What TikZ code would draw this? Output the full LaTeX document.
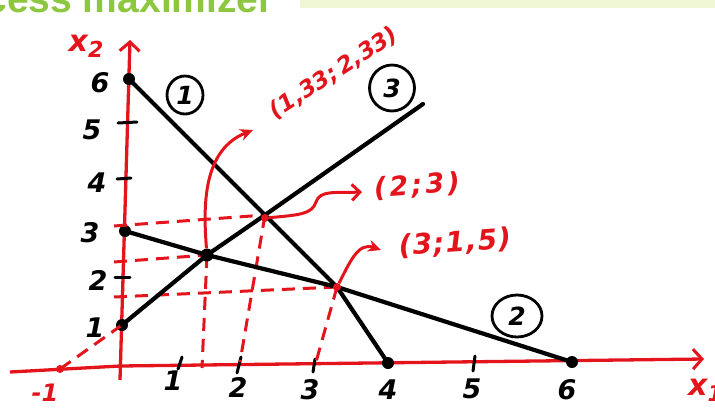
\documentclass[tikz,border=0pt]{standalone}
\usepackage{fontspec}
\usetikzlibrary{arrows.meta,positioning,shapes.geometric,calc}
\newfontfamily\bannerfont{Liberation Sans}
\newfontfamily\hand{DejaVu Sans}
\definecolor{Mk}{HTML}{E4141C}
\definecolor{Gb}{HTML}{8DC63F}
\definecolor{Gbar}{HTML}{EFF6D4}
\tikzset{
  vx/.style={circle, fill=black, inner sep=0pt, minimum size=12pt},
  hit/.style={circle, fill=Mk, inner sep=0pt, minimum size=8pt},
  cons/.style={line width=4.2pt, black, line cap=round, line join=round},
  ax/.style={line width=3.3pt, Mk, line join=round, -{Straight Barb[length=9pt,width=20pt,line width=3pt]}},
  proj/.style={line width=3pt, Mk, dash pattern=on 13pt off 8pt},
  curl/.style={line width=3pt, Mk, -{Stealth[length=13pt,width=12pt]}},
  tk/.style={line width=3pt, black, line cap=round},
  num/.style={font=\hand\fontsize{27}{29}\selectfont\bfseries\itshape, inner sep=0pt},
  pnt/.style={font=\hand\bfseries\itshape, text=Mk, inner sep=0pt},
  tag/.style={ellipse, draw, line width=2.8pt, inner sep=0pt,
    font=\hand\fontsize{25}{27}\selectfont\bfseries\itshape},
  banner/.style={font=\bannerfont\fontsize{39}{40}\selectfont\bfseries, text=Gb, inner sep=0pt},
}
\begin{document}
\begin{tikzpicture}[x=1pt,y=-1pt]
  \useasboundingbox (0,0) rectangle (715,408);
  % header strip, cut off at the top
  \fill[Gbar] (300,0) rectangle (715,8);
  \node[banner, anchor=base east] (ban) at (274,12) {cess maximizer};
  % axes
  \coordinate (xa0) at (10,372);
  \coordinate (xo) at (120,366);
  \coordinate (xa1) at (704,359);
  \coordinate (ya0) at (120,380);
  \coordinate (ya1) at (130,40);
  \draw[ax] (xa0) -- (xo) -- (xa1);
  \draw[ax] (ya0) -- (ya1);
  \node[pnt, font=\hand\fontsize{30}{30}\selectfont\bfseries\itshape] (lx2) at (86,46) {x\raisebox{-6pt}{\fontsize{22}{22}\selectfont 2}};
  \node[pnt, font=\hand\fontsize{30}{30}\selectfont\bfseries\itshape, anchor=west] (lx1) at (688,390) {x\raisebox{-6pt}{\fontsize{22}{22}\selectfont 1}};
  \node[pnt, font=\hand\fontsize{24}{24}\selectfont\bfseries\itshape] (lm1) at (45,393) {-1};
  % ticks
  \draw[tk] (118,123) -- (137,122);
  \draw[tk] (117,179) -- (131,178);
  \draw[tk] (115,277) -- (130,277);
  \draw[tk] (182,357) -- (178,369);
  \draw[tk] (241,357) -- (237,373);
  \draw[tk] (315,359) -- (313,372);
  \draw[tk] (475,356) -- (473,371);
  \node[num] (y6) at (100,83) {6};
  \node[num] (y5) at (92,130) {5};
  \node[num] (y4) at (97,183) {4};
  \node[num] (y3) at (90,233) {3};
  \node[num] (y2) at (98,280) {2};
  \node[num] (y1) at (95,328) {1};
  \node[num] (x1) at (173,381) {1};
  \node[num] (x2) at (238,387) {2};
  \node[num] (x3) at (310,390) {3};
  \node[num] (x4) at (388,390) {4};
  \node[num] (x5) at (472,389) {5};
  \node[num] (x6) at (567,390) {6};
  % corner points and crossings
  \node[vx] (top1) at (129,79) {};
  \node[vx] (top2) at (125,231) {};
  \node[vx] (top3) at (122,325) {};
  \node[vx] (end1) at (388,363) {};
  \node[vx] (end2) at (572,362) {};
  \coordinate (end3) at (423,104);
  \node[hit] (m1) at (60,369) {};
  \coordinate (i23) at (207,255);
  \coordinate (i13) at (265,215);
  \coordinate (i12) at (337,287);
  % projections
  \coordinate (h13) at (114,226);
  \coordinate (h23) at (114,262);
  \coordinate (h12) at (114,297);
  \coordinate (v23) at (202,368);
  \coordinate (v13) at (240,362);
  \coordinate (v12) at (316,362);
  \draw[proj] (h13) -- (i13);
  \draw[proj] (h23) -- (i23);
  \draw[proj] (h12) -- (i12);
  \draw[proj] (i23) -- (v23);
  \draw[proj] (i13) -- (v13);
  \draw[proj] (i12) -- (v12);
  \draw[proj] (m1.center) -- (top3.center);
  % constraint lines
  \draw[cons] (top1.center) -- (i13) -- (i12) -- (end1.center);
  \draw[cons] (top2.center) -- (i23) -- (i12) -- (end2.center);
  \draw[cons] (top3.center) -- (i23) -- (i13) -- (end3);
  \node[vx, minimum size=13pt] (p23) at (i23) {};
  \node[hit] (p13) at ($(i13)+(0,3)$) {};
  \node[hit] (p12) at (i12) {};
  \node[tag, minimum width=36pt, minimum height=38pt] (t1) at (185,95) {1};
  \node[tag, minimum width=45pt, minimum height=46pt] (t3) at (392,88) {3};
  \node[tag, minimum width=50pt, minimum height=42pt] (t2) at (517,316) {2};
  % solution labels
  \node[pnt, font=\hand\fontsize{23}{25}\selectfont\bfseries\itshape, rotate=33] (l23) at (334,73) {(1,33;\,2,33)};
  \node[pnt, font=\hand\fontsize{27}{29}\selectfont\bfseries\itshape\addfontfeature{LetterSpace=12}, rotate=4] (l13) at (417,186) {(2;3)};
  \node[pnt, font=\hand\fontsize{28}{30}\selectfont\bfseries\itshape\addfontfeature{LetterSpace=4}, rotate=4] (l12) at (455,243) {(3;1,5)};
  \draw[curl] (p23) .. controls (203,205) and (203,150) .. (253,130);
  \draw[curl, -{Straight Barb[length=8pt,width=16pt,line width=3pt]}] (p13) .. controls (300,215) and (312,214) .. (316,202) .. controls (320,190) and (335,193) .. (362,192);
  \draw[curl] (p12) .. controls (350,262) and (358,242) .. (381,250);
\end{tikzpicture}
\end{document}
